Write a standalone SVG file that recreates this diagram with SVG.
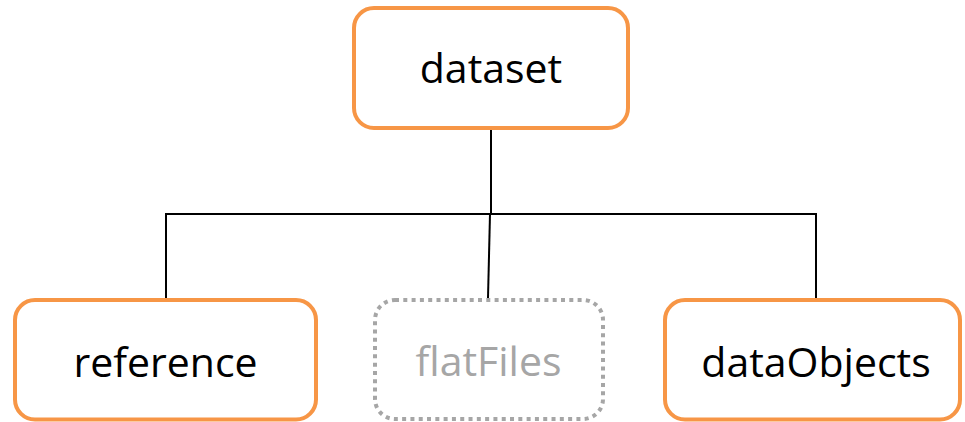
<svg xmlns="http://www.w3.org/2000/svg" width="965" height="422" viewBox="0 0 965 422">
  <style>
    .box { fill: #ffffff; stroke: #f79646; stroke-width: 4; }
    .ghost { fill: #ffffff; stroke: #a6a6a6; stroke-width: 4; stroke-dasharray: 4 4.3; }
    .lbl { font-family: "Open Sans", "Liberation Sans", sans-serif; font-size: 41px; fill: #000000; text-anchor: middle; }
    .lbl-ghost { fill: #a6a6a6; }
    .conn { fill: none; stroke: #000000; stroke-width: 2; }
  </style>
  <rect width="965" height="422" fill="#ffffff"/>
  <g id="connectors">
    <line class="conn" x1="491" y1="130" x2="491" y2="214"/>
    <polyline class="conn" points="166,298 166,214 816,214 816,298"/>
    <line class="conn" x1="490" y1="214" x2="488" y2="298"/>
  </g>
  <g id="node-dataset">
    <rect class="box" x="354" y="8" width="274" height="120" rx="20" ry="20"/>
    <text class="lbl" x="491" y="83">dataset</text>
  </g>
  <g id="node-reference">
    <rect class="box" x="15" y="300" width="301" height="119.5" rx="20" ry="20"/>
    <text class="lbl" x="165.5" y="377">reference</text>
  </g>
  <g id="node-flatFiles">
    <rect class="ghost" x="375" y="300" width="228" height="119" rx="20" ry="20"/>
    <text class="lbl lbl-ghost" x="488.5" y="376">flatFiles</text>
  </g>
  <g id="node-dataObjects">
    <rect class="box" x="665" y="300" width="295" height="119.5" rx="20" ry="20"/>
    <text class="lbl" x="816" y="377">dataObjects</text>
  </g>
</svg>
